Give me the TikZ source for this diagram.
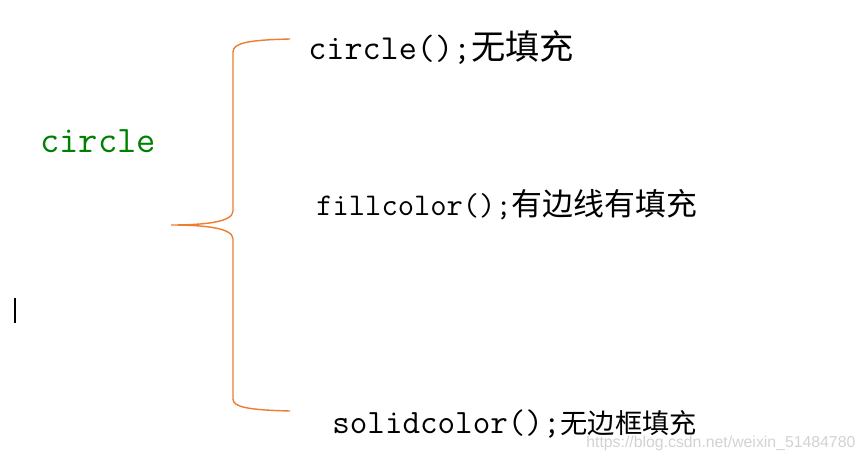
\documentclass[tikz,border=0pt]{standalone}
\usepackage{fontspec}
\usepackage{tikz}
\newfontfamily\cjk{Noto Sans CJK SC}
\newfontfamily\wmfont{Liberation Sans}
\definecolor{braceorange}{RGB}{237,125,49}
\definecolor{labelgreen}{RGB}{0,128,0}

\begin{document}
\begin{tikzpicture}[x=0.02cm,y=-0.02cm,
  every node/.style={inner sep=0pt,anchor=base west},
  brace/.style={draw=braceorange,line width=0.8pt}]
\useasboundingbox (0,0) rectangle (864,459);
%[labels]
\path (40,153) node (circ) [font=\ttfamily\fontsize{21.3}{24}\selectfont,text=labelgreen] {circle};
\path (308,60) node (nofill) [font=\ttfamily\fontsize{20}{22}\selectfont] {circle();{\cjk\fontsize{19.5}{22}\selectfont 无填充}};
\path (316,215) node (fillc) [font=\ttfamily\fontsize{18}{20}\selectfont] {fillcolor();{\cjk\fontsize{17.6}{20}\selectfont 有边线有填充}};
\path (332,433) node (solidc) [font=\ttfamily\fontsize{19.4}{22}\selectfont] {solidcolor();{\cjk\fontsize{15.5}{18}\selectfont 无边框填充}};
\path (586,447) node (wm) [font=\wmfont\fontsize{9}{11}\selectfont,text=gray!35] {https://blog.csdn.net/weixin\_51484780};

%[brace]
\coordinate (tip) at (171,225);
\coordinate (top) at (290,39);
\coordinate (bot) at (290,411);
\draw [brace] (top) .. controls (248,40) and (233,43) .. (233,52) -- (233,211)
  .. controls (233,222) and (205,225) .. (tip)
  .. controls (205,225) and (233,228) .. (233,239) -- (233,399)
  .. controls (233,407) and (248,410) .. (bot);

%[caret]
\coordinate (ctop) at (15,298);
\coordinate (cbot) at (15,323);
\draw [line width=1.2pt] (ctop) -- (cbot);
\end{tikzpicture}
\end{document}
